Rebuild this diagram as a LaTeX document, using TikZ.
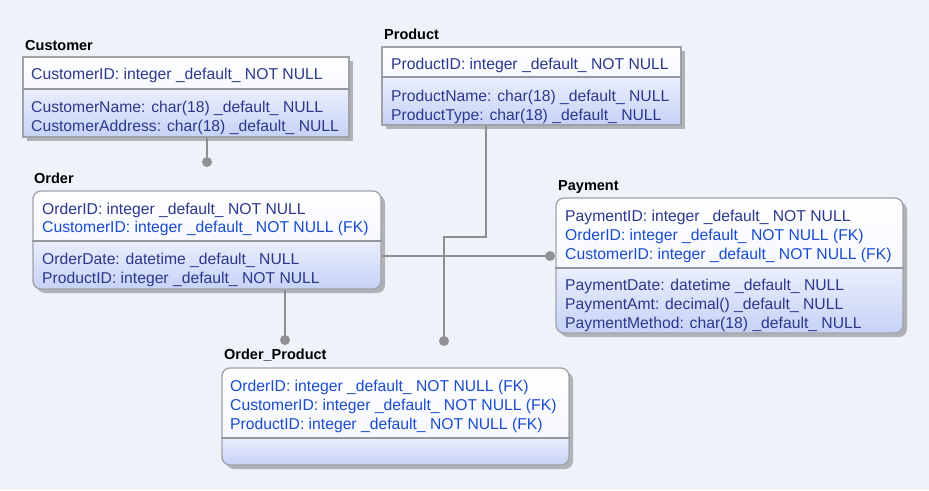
\documentclass[tikz,border=0pt]{standalone}
\usepackage{fontspec}
\setmainfont{Liberation Sans}
\usetikzlibrary{fit}
\definecolor{bgc}{RGB}{238,243,249}
\definecolor{shadowc}{RGB}{176,178,184}
\definecolor{bordc}{RGB}{160,162,170}
\definecolor{sepc}{RGB}{150,152,160}
\definecolor{hdrbot}{RGB}{246,248,254}
\definecolor{lowtop}{RGB}{234,238,252}
\definecolor{lowbot}{RGB}{198,210,246}
\definecolor{fldc}{RGB}{44,56,140}
\definecolor{fkc}{RGB}{26,76,208}
\definecolor{linec}{RGB}{142,142,146}
\definecolor{dotc}{RGB}{146,146,150}
\tikzset{
  ttl/.style={font=\fontsize{14.5}{16}\selectfont\bfseries, text=black, inner sep=0pt, anchor=base west},
  fld/.style={font=\fontsize{15.7}{18}\selectfont, text=fldc, inner sep=0pt, anchor=base west},
  fk/.style={fld, text=fkc},
  conn/.style={draw=linec, line width=1.5pt},
  enddot/.style={circle, fill=dotc, minimum size=10pt, inner sep=0pt},
  tblframe/.style={draw=bordc, line width=1.3pt, inner sep=0pt},
  sepline/.style={draw=sepc, line width=1.6pt}
}
\newcommand\erbox[7]{%
  \fill[shadowc, rounded corners=#7] (#2+4,#3+4) rectangle (#4+4,#5+4);
  \begin{scope}
    \clip[rounded corners=#7] (#2,#3) rectangle (#4,#5);
    \fill[top color=white, bottom color=hdrbot] (#2,#3) rectangle (#4,#6);
    \fill[top color=lowtop, bottom color=lowbot] (#2,#6) rectangle (#4,#5);
  \end{scope}
  \node[tblframe, rounded corners=#7, fit={(#2,#3) (#4,#5)}] (#1) {};
  \coordinate (#1sep) at (0,#6);
  \draw[sepline] (#1.west |- #1sep) -- (#1.east |- #1sep);
}
\begin{document}
\begin{tikzpicture}[x=1pt,y=-1pt]
\useasboundingbox (0,0) rectangle (929,490);
\fill[bgc] (0,0) rectangle (929,490);

% Customer
\erbox{cust}{23}{57}{349}{137}{89}{0}
\node[ttl] (custT) at (25,50) {Customer};
\node[fld] (c1) at (31,79) {CustomerID: integer \_default\_ NOT NULL};
\node[fld] (c2) at (31,112) {CustomerName: char(18) \_default\_ NULL};
\node[fld] (c3) at (31,131) {CustomerAddress: char(18) \_default\_ NULL};

% Product
\erbox{prod}{382}{47}{681}{125}{77}{0}
\node[ttl] (prodT) at (384,39) {Product};
\node[fld] (p1) at (391,69) {ProductID: integer \_default\_ NOT NULL};
\node[fld] (p2) at (391,101) {ProductName: char(18) \_default\_ NULL};
\node[fld] (p3) at (391,120) {ProductType: char(18) \_default\_ NULL};

% Order
\erbox{ord}{33}{191}{381}{289}{241}{8}
\node[ttl] (ordT) at (34,183) {Order};
\node[fld] (o1) at (42,214) {OrderID: integer \_default\_ NOT NULL};
\node[fk]  (o2) at (42,232) {CustomerID: integer \_default\_ NOT NULL (FK)};
\node[fld] (o3) at (42,264) {OrderDate: datetime \_default\_ NULL};
\node[fld] (o4) at (42,283) {ProductID: integer \_default\_ NOT NULL};

% Payment
\erbox{pay}{556}{198}{903}{333}{268}{8}
\node[ttl] (payT) at (558,190) {Payment};
\node[fld] (y1) at (565,221) {PaymentID: integer \_default\_ NOT NULL};
\node[fk]  (y2) at (565,240) {OrderID: integer \_default\_ NOT NULL (FK)};
\node[fk]  (y3) at (565,259) {CustomerID: integer \_default\_ NOT NULL (FK)};
\node[fld] (y4) at (565,290) {PaymentDate: datetime \_default\_ NULL};
\node[fld] (y5) at (565,309) {PaymentAmt: decimal() \_default\_ NULL};
\node[fld] (y6) at (565,328) {PaymentMethod: char(18) \_default\_ NULL};

% Order_Product
\erbox{op}{222}{368}{569}{465}{438}{8}
\node[ttl] (opT) at (224,359) {Order\_Product};
\node[fk] (q1) at (230,391) {OrderID: integer \_default\_ NOT NULL (FK)};
\node[fk] (q2) at (230,410) {CustomerID: integer \_default\_ NOT NULL (FK)};
\node[fk] (q3) at (230,429) {ProductID: integer \_default\_ NOT NULL (FK)};

% connectors
\coordinate (bendA) at (486,237);
\coordinate (bendB) at (444,237);
\draw[conn] (cust.south -| 207,0) -- (207,162) node[enddot] (dotC) {};
\draw[conn] (bendA |- prod.south) -- (bendA) -- (bendB) -- (444,341) node[enddot] (dotP) {};
\draw[conn] (ord.east |- 0,256) -- (550,256) node[enddot] (dotPay) {};
\draw[conn] (ord.south -| 285,0) -- (285,340) node[enddot] (dotOP) {};
\end{tikzpicture}
\end{document}
